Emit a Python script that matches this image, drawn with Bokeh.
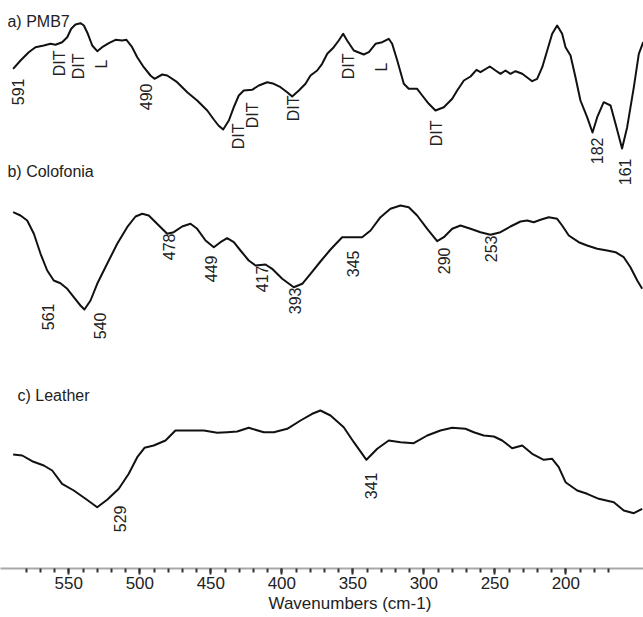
import numpy as np
from bokeh.plotting import figure
from bokeh.models import Range1d, LinearAxis, FixedTicker, Label, Title, ColumnDataSource
from bokeh.embed import file_html
from bokeh.resources import INLINE
from bokeh.core.properties import value

# ---- spectra (wavenumber cm-1, stacked intensity a.u.) ----
pmb7_wn = [589.2, 584.0, 578.2, 573.5, 567.6, 562.9, 559.4, 554.7, 551.1, 548.3, 545.3, 541.8,
           539.4, 536.6, 533.5, 530.0, 526.5, 521.8, 517.1, 512.4, 509.4, 505.4, 501.8, 497.2,
           492.5, 489.7, 484.2, 480.7, 473.7, 466.6, 459.6, 452.5, 447.9, 444.6, 441.3, 437.3,
           433.8, 430.3, 426.8, 420.9, 416.2, 410.3, 405.6, 400.9, 396.2, 392.7, 388.0, 383.3,
           379.8, 375.1, 371.6, 368.0, 363.4, 359.9, 356.8, 354.0, 349.3, 342.3, 338.7, 334.0,
           329.3, 324.7, 322.3, 318.7, 314.1, 310.6, 304.7, 301.1, 296.5, 291.8, 285.9, 280.0,
           276.5, 271.8, 267.1, 262.9, 260.1, 253.5, 249.5, 246.0, 242.5, 239.0, 235.4, 230.7,
           223.7, 220.2, 216.6, 213.1, 209.6, 206.1, 202.6, 200.2, 196.7, 193.2, 189.7, 185.0,
           181.2, 177.9, 173.3, 168.5, 165.0, 160.4, 156.8, 152.1, 148.6, 145.5]
pmb7_y = [500.7, 509, 517.3, 522.3, 524, 525.7, 524.7, 527.3, 532.3, 540.7, 545, 546.3,
          544, 535.7, 524, 518.3, 522.3, 526.3, 529.7, 529, 529.7, 522.3, 512.3, 502.3,
          494, 490.7, 495, 494, 487.3, 477.3, 469, 459, 450, 444, 440, 449,
          462.3, 474, 479, 479.7, 484, 487.3, 485.7, 482.3, 477.3, 473, 479, 485.7,
          494, 499, 505.7, 515.7, 522.3, 529, 535.7, 529, 519, 515, 517.3, 525.7,
          527.3, 530.7, 525.7, 509, 485.7, 480.7, 480.7, 474, 465.7, 459, 462.3, 470.7,
          479, 489, 493, 499.7, 497.3, 503, 499, 495.7, 499, 495.7, 498.3, 495.7,
          488.3, 490.7, 502.3, 519, 535.7, 544, 535.7, 522.3, 514, 492.3, 469, 452.3,
          437, 452.3, 467.3, 464, 445.7, 421, 442.3, 482.3, 515.7, 527.3]

colofonia_wn = [589.2, 584.0, 579.3, 574.6, 569.9, 565.2, 560.6, 555.9, 551.1, 546.5, 541.8, 539.0,
                534.7, 530.0, 523.0, 515.9, 508.9, 503.0, 498.3, 493.7, 486.6, 480.7, 476.1, 470.2,
                464.3, 459.6, 453.7, 447.9, 443.2, 438.5, 433.8, 429.1, 423.3, 418.5, 411.5, 406.8,
                399.7, 391.6, 385.6, 379.8, 372.8, 365.7, 357.5, 350.4, 343.4, 337.5, 330.5, 323.5,
                316.4, 310.6, 304.7, 297.6, 290.6, 285.9, 280.0, 274.2, 267.1, 260.1, 253.0, 246.0,
                239.0, 231.9, 227.2, 222.6, 217.8, 212.0, 206.1, 202.6, 197.9, 190.9, 185.0, 177.9,
                170.9, 165.0, 159.2, 154.5, 149.7, 146.2]
colofonia_y = [357.3, 354, 349, 335.7, 315.7, 299, 289, 286.3, 280.7, 272.3, 264, 260,
               269, 285.7, 305.7, 325.7, 342.3, 353, 355.7, 354, 344, 335.7, 337.3, 343,
               345.7, 340.7, 329, 322.3, 327.3, 331.3, 327.3, 319, 309, 304, 305, 300.7,
               290.7, 282.3, 285.7, 295.7, 308, 320, 332.3, 332.3, 332.3, 339, 352.3, 360.7,
               364, 362.3, 354, 340.7, 328.3, 332.3, 340.7, 344, 340.7, 337.3, 334.7, 337.3,
               343, 348, 349, 347.3, 349.7, 352.3, 350.7, 344, 334, 327.3, 324, 320.7,
               319, 317.3, 312.3, 302.3, 289, 280.7]

leather_wn = [589.2, 582.8, 575.8, 567.6, 561.7, 554.7, 546.5, 538.2, 530.0, 523.0, 514.8, 507.8,
              501.8, 496.7, 490.2, 481.9, 474.9, 466.6, 454.9, 445.5, 438.5, 431.4, 423.3, 412.7,
              405.6, 396.2, 386.8, 378.6, 372.8, 365.7, 356.4, 349.3, 340.4, 332.8, 324.7, 316.4,
              307.1, 297.6, 288.3, 280.0, 270.7, 264.8, 257.8, 250.7, 244.8, 237.8, 230.7, 223.7,
              215.5, 209.6, 205.0, 200.2, 192.0, 185.0, 176.8, 166.2, 159.2, 152.1, 146.2]
leather_y = [115, 114, 108.3, 104, 99, 85.7, 79, 70.7, 62.3, 69.7, 80.7, 95.7,
             112.3, 121.7, 124, 129, 139, 139, 139, 136.7, 137.3, 138, 141.7, 137.3,
             137.3, 140.7, 149, 155.7, 159, 154, 142.3, 127.3, 109.7, 120.7, 129, 127.3,
             126.3, 134, 139, 141.7, 140.7, 137.3, 134, 133, 129, 121.3, 124, 115.7,
             109.7, 110.7, 102.3, 87.3, 79, 75.7, 70.7, 67.3, 59, 56.3, 60.7]

# ---- band labels ----
pmb7_lab_wn = [585.8, 556.5, 543.2, 527.0, 495.3, 430.5, 420.6, 391.8, 353.0, 329.8, 291.1, 177.7, 158.0]
pmb7_lab_y = [491, 519, 516, 510, 486, 446, 467, 474, 516, 507, 449, 432, 411]
pmb7_lab = ["591", "DIT", "DIT", "L", "490", "DIT", "DIT", "DIT", "DIT", "L", "DIT", "182", "161"]

colofonia_lab_wn = [565.0, 527.7, 479.1, 450.2, 413.6, 390.4, 350.2, 286.1, 253.0]
colofonia_lab_y = [266, 257, 336, 314, 304, 282, 319, 322, 334]
colofonia_lab = ["561", "540", "478", "449", "417", "393", "345", "290", "253"]

leather_lab_wn = [513.6, 337.5]
leather_lab_y = [64, 97]
leather_lab = ["529", "341"]

panel_titles = ["a) PMB7", "b) Colofonia", "c) Leather"]
panel_title_wn = [593.2, 593.2, 586.1]
panel_title_y = [548, 398, 174]

x_title = "Wavenumbers (cm-1)"

major_ticks = [550, 500, 450, 400, 350, 300, 250, 200]
minor_ticks = list(range(580, 165, -10))

FONT = "Liberation Sans"

p = figure(width=643, height=617, output_backend="svg", toolbar_location=None,
           x_range=Range1d(598.1, 145.3), y_range=Range1d(1, 569),
           x_axis_type=None, y_axis_type=None,
           min_border_left=0, min_border_right=0, min_border_top=0, min_border_bottom=49)
p.outline_line_color = None
p.background_fill_color = "white"
p.border_fill_color = "white"

for wn, yy in [(pmb7_wn, pmb7_y), (colofonia_wn, colofonia_y), (leather_wn, leather_y)]:
    p.line(wn, yy, line_color="#111111", line_width=2, line_join="round")

for wn, yy, tx in [(pmb7_lab_wn, pmb7_lab_y, pmb7_lab),
                   (colofonia_lab_wn, colofonia_lab_y, colofonia_lab),
                   (leather_lab_wn, leather_lab_y, leather_lab)]:
    src = ColumnDataSource(dict(x=wn, y=yy, t=tx))
    p.text(x="x", y="y", text="t", source=src, angle=np.pi / 2,
           text_align="right", text_baseline="middle",
           text_font=value(FONT), text_font_size="16px", text_color="#222222")

for t, xw, yv in zip(panel_titles, panel_title_wn, panel_title_y):
    p.add_layout(Label(x=xw, y=yv, text=t, text_font=FONT, text_font_size="16px",
                       text_color="#222222", text_baseline="alphabetic", text_align="left"))

ax = LinearAxis(ticker=FixedTicker(ticks=major_ticks, minor_ticks=minor_ticks),
                axis_line_color="#a8a8a8", axis_line_width=2,
                major_tick_line_color="#333333", major_tick_line_width=2,
                major_tick_out=6, major_tick_in=0,
                minor_tick_line_color="#333333", minor_tick_line_width=2,
                minor_tick_out=4, minor_tick_in=0,
                major_label_text_font=FONT, major_label_text_font_size="17px",
                major_label_text_color="#222222", major_label_standoff=2)
p.add_layout(ax, "below")
p.add_layout(Title(text=x_title, align="left", offset=268, standoff=0,
                   text_font=FONT, text_font_size="17px", text_font_style="normal",
                   text_color="#222222"), "below")

open("out.html", "w").write(file_html(p, INLINE))
